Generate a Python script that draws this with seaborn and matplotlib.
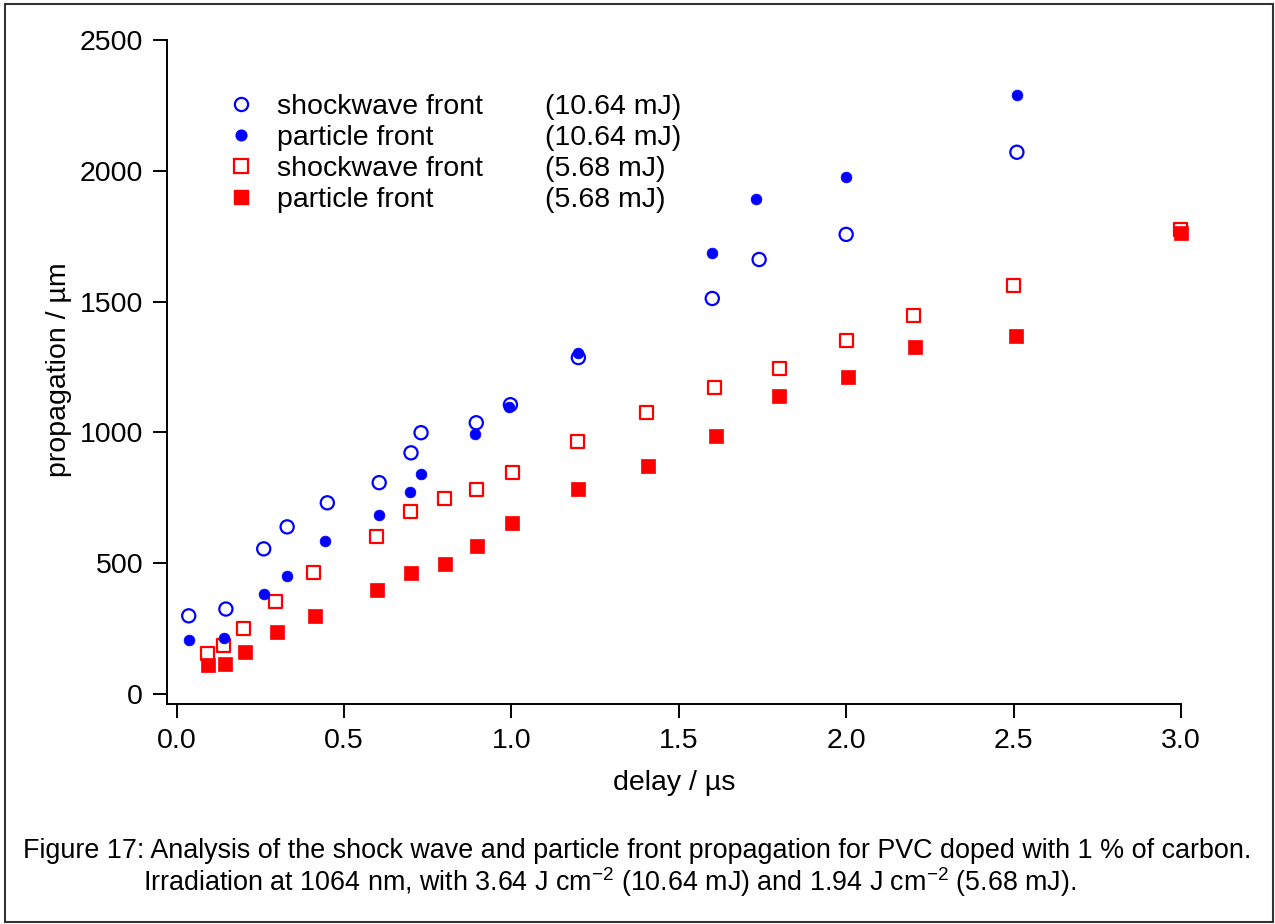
import numpy as np
import pandas as pd
import matplotlib
matplotlib.use("Agg")
import matplotlib.pyplot as plt
import seaborn as sns
from matplotlib.patches import Rectangle
from matplotlib.lines import Line2D

# ---- data ----
sw_hi_x = [0.036, 0.147, 0.26, 0.33, 0.45, 0.605, 0.70, 0.73, 0.895, 0.997, 1.20, 1.60, 1.74, 2.0, 2.51]
sw_hi_y = [299, 325, 555, 639, 731, 808, 922, 999, 1037, 1106, 1286, 1512, 1661, 1757, 2071]

pf_hi_x = [0.036, 0.14, 0.26, 0.33, 0.443, 0.604, 0.697, 0.73, 0.892, 0.993, 1.198, 1.60, 1.73, 2.0, 2.51]
pf_hi_y = [207, 214, 383, 452, 586, 685, 773, 842, 995, 1096, 1302, 1685, 1892, 1977, 2290]

sw_lo_x = [0.092, 0.14, 0.20, 0.296, 0.41, 0.596, 0.698, 0.80, 0.895, 1.003, 1.198, 1.404, 1.608, 1.80, 2.0, 2.20, 2.50, 3.0]
sw_lo_y = [156, 184, 249, 353, 464, 601, 698, 748, 782, 846, 965, 1076, 1171, 1244, 1351, 1447, 1562, 1776]

pf_lo_x = [0.095, 0.144, 0.204, 0.30, 0.413, 0.599, 0.70, 0.802, 0.898, 1.003, 1.198, 1.407, 1.61, 1.80, 2.006, 2.207, 2.506, 3.0]
pf_lo_y = [110, 116, 161, 237, 300, 398, 462, 498, 567, 655, 785, 873, 988, 1141, 1210, 1328, 1367, 1762]

series_labels = ["shockwave front", "particle front", "shockwave front", "particle front"]
energy_labels = ["(10.64 mJ)", "(10.64 mJ)", "(5.68 mJ)", "(5.68 mJ)"]
x_ticks = [0.0, 0.5, 1.0, 1.5, 2.0, 2.5, 3.0]
y_ticks = [0, 500, 1000, 1500, 2000, 2500]
x_label = "delay / µs"
y_label = "propagation / µm"
caption1 = "Figure 17: Analysis of the shock wave and particle front propagation for PVC doped with 1 % of carbon."
caption2 = r"Irradiation at 1064 nm, with 3.64 J cm$^{-2}$ (10.64 mJ) and 1.94 J cm$^{-2}$ (5.68 mJ)."

# ---- style ----
sns.set_theme(style="ticks")
plt.rcParams["font.family"] = ["Liberation Sans", "DejaVu Sans"]
plt.rcParams["mathtext.fontset"] = "custom"
plt.rcParams["mathtext.rm"] = "Liberation Sans"
plt.rcParams["mathtext.it"] = "Liberation Sans"
plt.rcParams["mathtext.bf"] = "Liberation Sans"
for k in ["text.color", "axes.labelcolor", "xtick.color", "ytick.color", "axes.edgecolor"]:
    plt.rcParams[k] = "black"

BLUE = "#0000ff"
RED = "#ff0000"
FS = 20.5

fig = plt.figure(figsize=(12.75, 9.24), dpi=100)
ax = fig.add_axes([0.1307, 0.2381, 0.7955, 0.7186])

sns.scatterplot(x=sw_hi_x, y=sw_hi_y, marker="o", s=90, facecolor="none",
                edgecolor=BLUE, linewidth=1.6, ax=ax, zorder=3, clip_on=False)
sns.scatterplot(x=pf_hi_x, y=pf_hi_y, marker="o", s=60, color=BLUE,
                edgecolor=BLUE, linewidth=0.5, ax=ax, zorder=4, clip_on=False)
sns.scatterplot(x=sw_lo_x, y=sw_lo_y, marker="s", s=88, facecolor="none",
                edgecolor=RED, linewidth=1.6, ax=ax, zorder=3, clip_on=False)
sns.scatterplot(x=pf_lo_x, y=pf_lo_y, marker="s", s=112, color=RED,
                edgecolor=RED, linewidth=0.5, ax=ax, zorder=4, clip_on=False)

ax.set_xlim(-0.030, 3.0)
ax.set_ylim(-38, 2500)
ax.set_xticks(x_ticks)
ax.set_xticklabels([f"{v:.1f}" for v in x_ticks])
ax.set_yticks(y_ticks)
ax.set_yticklabels([str(v) for v in y_ticks])

for s in ["top", "right"]:
    ax.spines[s].set_visible(False)
for s in ["left", "bottom"]:
    ax.spines[s].set_linewidth(1.4)
    ax.spines[s].set_color("black")
ax.tick_params(axis="both", direction="out", length=10, width=1.4, colors="black",
               labelsize=FS, pad=7)
ax.grid(False)

ax.set_xlabel(x_label, fontsize=FS, labelpad=12)
ax.set_ylabel(y_label, fontsize=FS)
ax.yaxis.set_label_coords(-0.093, 0.503)

# legend with two text columns
handles = [
    Line2D([], [], ls="none", marker="o", ms=9.5, mfc="none", mec=BLUE, mew=1.6),
    Line2D([], [], ls="none", marker="o", ms=7.7, mfc=BLUE, mec=BLUE),
    Line2D([], [], ls="none", marker="s", ms=9.4, mfc="none", mec=RED, mew=1.6),
    Line2D([], [], ls="none", marker="s", ms=10.6, mfc=RED, mec=RED),
]
blank = [Line2D([], [], ls="none") for _ in range(4)]
leg = ax.legend(handles + blank, series_labels + energy_labels, ncol=2,
                loc="upper left", bbox_to_anchor=(0.0594, 0.918),
                frameon=False, fontsize=FS, borderpad=0, borderaxespad=0,
                handlelength=1.0, handletextpad=0.75, columnspacing=0.43,
                labelspacing=0.17)

# caption
fig.text(0.5, 0.0785, caption1, ha="center", va="center", fontsize=19.4)
fig.text(143 / 1275, 0.0455, caption2, ha="left", va="center", fontsize=19.4)

# frame around the whole figure
fig.patches.append(Rectangle((5 / 1275, 2 / 924), 1268 / 1275, 918 / 924,
                             transform=fig.transFigure, fill=False,
                             edgecolor="#333333", linewidth=1.5))

fig.savefig("out.png", dpi=100)
